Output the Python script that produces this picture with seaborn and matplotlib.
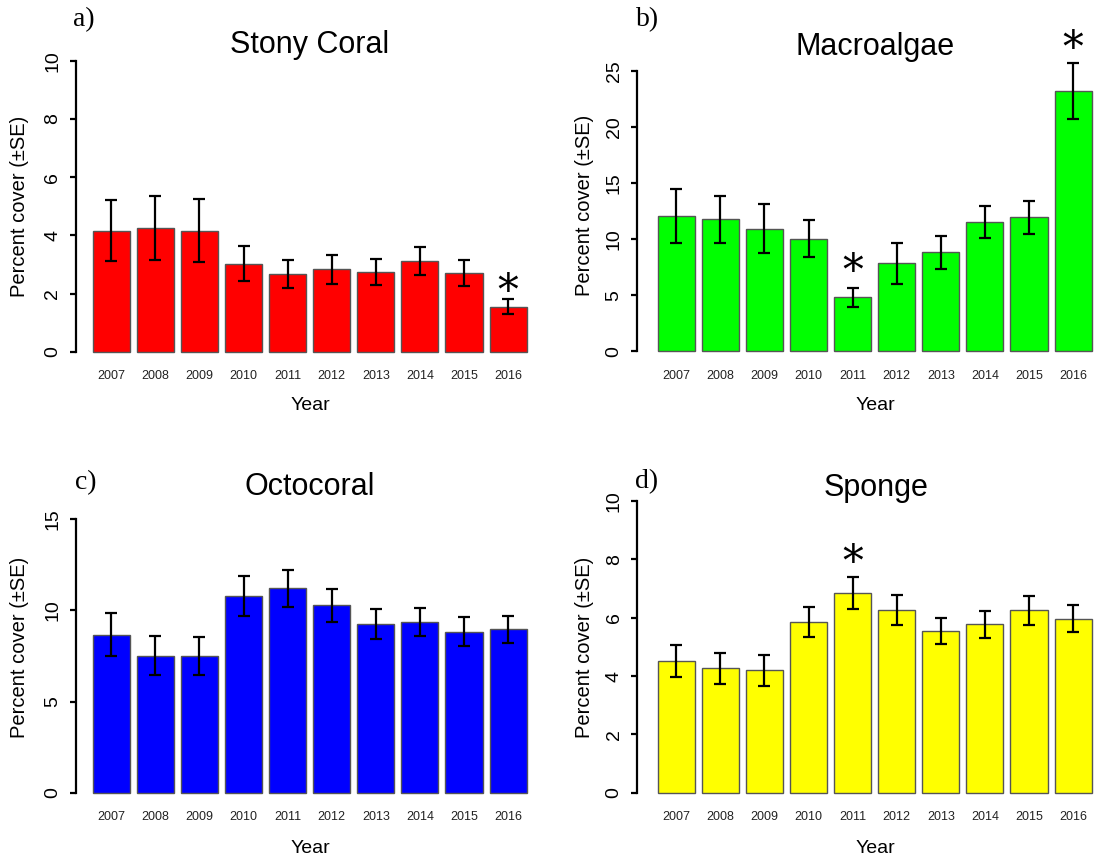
import matplotlib
matplotlib.use('Agg')
import matplotlib.pyplot as plt
import seaborn as sns

plt.rcParams['font.family'] = ['Liberation Sans', 'DejaVu Sans']

# Data
years = ['2007', '2008', '2009', '2010', '2011', '2012', '2013', '2014', '2015', '2016']

stony_mean = [4.16, 4.25, 4.16, 3.03, 2.66, 2.83, 2.73, 3.11, 2.71, 1.55]
stony_se = [1.05, 1.11, 1.09, 0.61, 0.48, 0.49, 0.44, 0.48, 0.44, 0.25]

macro_mean = [12.05, 11.76, 10.93, 10.04, 4.81, 7.84, 8.82, 11.52, 11.94, 23.19]
macro_se = [2.42, 2.06, 2.20, 1.65, 0.86, 1.80, 1.47, 1.42, 1.47, 2.47]

octo_mean = [8.67, 7.52, 7.50, 10.79, 11.21, 10.28, 9.26, 9.37, 8.83, 8.96]
octo_se = [1.17, 1.08, 1.03, 1.09, 1.02, 0.92, 0.83, 0.79, 0.79, 0.75]

sponge_mean = [4.51, 4.26, 4.19, 5.85, 6.85, 6.27, 5.55, 5.77, 6.25, 5.97]
sponge_se = [0.55, 0.54, 0.54, 0.51, 0.55, 0.51, 0.44, 0.47, 0.51, 0.47]

# significant years (asterisk) and the height of the mark
stony_stars = [('2016', 2.35)]
macro_stars = [('2011', 7.85), ('2016', 27.7)]
octo_stars = []
sponge_stars = [('2011', 8.15)]

W, H = 1095, 863
fig = plt.figure(figsize=(W / 100, H / 100), dpi=100)

# pixel layout of each panel
panels = [
    dict(mean=stony_mean, se=stony_se, stars=stony_stars, color='#FF0000', title='Stony Coral', letter='a)',
         spine=76, c0=111.2, y0=351.7, ytop_px=60.8, ymax=10, step=2,
         title_xy=(310, 45), letter_xy=(84, 20), ylab_xy=(20, 206), xlab_xy=(310, 405)),
    dict(mean=macro_mean, se=macro_se, stars=macro_stars, color='#00FF00', title='Macroalgae', letter='b)',
         spine=637.3, c0=676.2, y0=351.5, ytop_px=70.7, ymax=25, step=5,
         title_xy=(875, 47), letter_xy=(648, 20), ylab_xy=(585, 205), xlab_xy=(875, 405)),
    dict(mean=octo_mean, se=octo_se, stars=octo_stars, color='#0000FF', title='Octocoral', letter='c)',
         spine=76, c0=111.2, y0=792.7, ytop_px=519.3, ymax=15, step=5,
         title_xy=(310, 487), letter_xy=(86, 483), ylab_xy=(20, 647), xlab_xy=(310, 848)),
    dict(mean=sponge_mean, se=sponge_se, stars=sponge_stars, color='#FFFF00', title='Sponge', letter='d)',
         spine=637.3, c0=676.2, y0=792.7, ytop_px=501, ymax=10, step=2,
         title_xy=(876, 488), letter_xy=(647, 482), ylab_xy=(585, 647), xlab_xy=(875, 848)),
]

pitch = 44.1
pad_px = 12

for p in panels:
    ppu = (p['y0'] - p['ytop_px']) / p['ymax']
    xl = (p['spine'] - p['c0']) / pitch
    xr = 9.5
    right = p['c0'] + xr * pitch
    ypad = pad_px / ppu
    bottom_px = p['y0'] + pad_px
    top_px = p['ytop_px'] - pad_px
    ax = fig.add_axes([p['spine'] / W, 1 - bottom_px / H,
                       (right - p['spine']) / W, (bottom_px - top_px) / H])

    sns.barplot(x=years, y=p['mean'], color=p['color'], width=0.84, edgecolor='#555555',
                linewidth=1, errorbar=None, saturation=1, ax=ax)
    ax.errorbar(range(len(years)), p['mean'], yerr=p['se'], fmt='none', ecolor='black',
                elinewidth=1.6, capsize=4, capthick=1.6)

    # asterisk centred on the given height
    for yr, yv in p['stars']:
        ax.annotate('*', (years.index(yr), yv), xytext=(0, -14.7), textcoords='offset points',
                    ha='center', va='baseline', fontsize=30, family=['DejaVu Serif'],
                    annotation_clip=False)

    ax.set_xlim(xl, xr)
    ax.set_ylim(-ypad, p['ymax'] + ypad)
    ax.set_xlabel('')
    ax.set_ylabel('')
    for s in ['top', 'right', 'bottom']:
        ax.spines[s].set_visible(False)
    ax.spines['left'].set_linewidth(1.6)
    ax.spines['left'].set_bounds(0, p['ymax'])
    ticks = list(range(0, p['ymax'] + 1, p['step']))
    ax.set_yticks(ticks)
    ax.set_yticklabels([str(t) for t in ticks], rotation=90, va='center', fontsize=14)
    ax.tick_params(axis='y', length=4.5, width=1.6, pad=6, colors='black')
    ax.tick_params(axis='x', length=0, pad=4.5, labelsize=9, labelcolor='#222222')
    ax.set_facecolor('none')

    fig.text(p['title_xy'][0] / W, 1 - p['title_xy'][1] / H, p['title'], ha='center', va='center', fontsize=22)
    fig.text(p['letter_xy'][0] / W, 1 - p['letter_xy'][1] / H, p['letter'], ha='center', va='center',
             fontsize=20, family=['Liberation Serif'])
    fig.text(p['ylab_xy'][0] / W, 1 - p['ylab_xy'][1] / H, 'Percent cover (±SE)', ha='center', va='center',
             rotation=90, fontsize=14.5)
    fig.text(p['xlab_xy'][0] / W, 1 - p['xlab_xy'][1] / H, 'Year', ha='center', va='center', fontsize=14)

fig.savefig('out.png', dpi=100)
